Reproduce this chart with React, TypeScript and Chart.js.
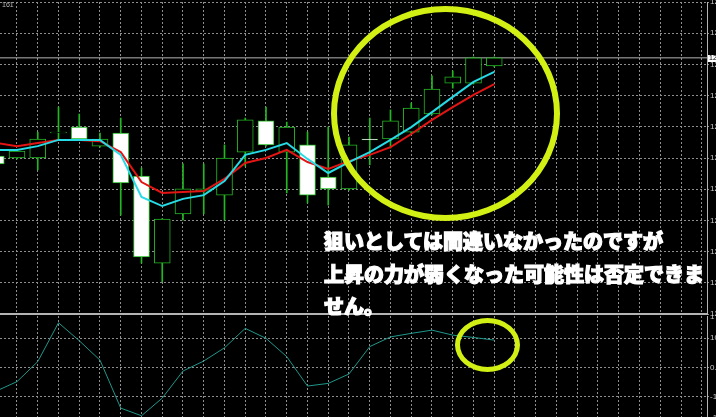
import React, { useEffect, useRef } from 'react';
import { Chart, registerables } from 'chart.js';

Chart.register(...registerables);

// ---- data (USD/JPY-like) ----
const opens = [122.006, 122.0, 122.0, 122.08, 122.099, 122.038, 122.08, 121.942, 121.663, 121.821, 121.894, 121.881, 122.019, 122.119, 122.019, 122.042, 121.939, 121.901, 122.061, 122.061, 122.083, 122.141, 122.24, 122.24, 122.295];
const highs = [122.019, 122.026, 122.083, 122.163, 122.141, 122.08, 122.128, 121.968, 121.806, 121.981, 121.981, 122.042, 122.128, 122.163, 122.115, 122.083, 122.099, 122.067, 122.128, 122.154, 122.176, 122.263, 122.279, 122.324, 122.324];
const lows = [121.974, 121.997, 121.962, 122.058, 122.058, 122.035, 121.817, 121.663, 121.603, 121.801, 121.821, 121.801, 121.974, 122.038, 121.888, 121.856, 121.849, 121.897, 121.978, 122.032, 122.08, 122.138, 122.224, 122.237, 122.292];
const closes = [121.981, 122.022, 122.061, 122.083, 122.061, 122.061, 121.92, 121.683, 121.804, 121.901, 121.901, 122.0, 122.122, 122.042, 122.099, 121.881, 121.901, 122.042, 122.058, 122.119, 122.16, 122.221, 122.26, 122.321, 122.321];
const maFast = [122.026, 122.026, 122.038, 122.058, 122.058, 122.058, 122.01, 121.875, 121.846, 121.869, 121.881, 121.926, 122.01, 122.026, 122.048, 121.997, 121.952, 121.987, 122.019, 122.058, 122.099, 122.147, 122.196, 122.244, 122.276];
const maSlow = [122.048, 122.038, 122.048, 122.058, 122.058, 122.054, 122.019, 121.923, 121.888, 121.891, 121.894, 121.933, 121.984, 122.0, 122.026, 121.987, 121.965, 121.99, 122.01, 122.035, 122.077, 122.122, 122.163, 122.202, 122.237];
const oscillator = [-8.0, -4.8, 2.0, 15.2, 9.1, 2.5, -13.8, -16.4, -10.4, -1.2, 2.2, 6.7, 13.3, 9.9, 3.7, -6.3, -5.4, -2.2, 7.1, 10.4, 11.6, 12.7, 11.0, 10.2, 9.3];
const mainTicks = [121.5, 121.6, 121.7, 121.8, 121.9, 122.0, 122.1, 122.2, 122.3, 122.4, 122.5];
const subTicks = [17.2603, 10, 0, -10, -17.2603];
const noteLines = ['狙いとしては間違いなかったのですが', '上昇の力が弱くなった可能性は否定できま', 'せん。'];

// ---- layout / style ----
const X_MIN = 0.181;
const X_MAX = 34.253;
const GREEN = '#22b822';
const GRID = '#8e8e8e';
const SOLID = '#b4b4b4';
const CYAN = '#27dbe6';
const RED = '#e31414';
const TEAL = '#1f978a';
const MARK = '#d2f014';
const CANVAS_W = 760;
const AXIS_W = CANVAS_W - 707;

const idx = opens.map((_, i) => i);
const gridIdx = Array.from({ length: 34 }, (_, k) => k + 1);
const lastClose = closes[closes.length - 1];

const axisFont = { size: 8, family: 'Liberation Sans' };

function xScale() {
  return {
    type: 'linear' as const,
    min: X_MIN,
    max: X_MAX,
    offset: false,
    position: 'bottom' as const,
    afterBuildTicks: (s: any) => {
      s.ticks = gridIdx.map((v) => ({ value: v }));
    },
    ticks: { display: false },
    grid: { color: GRID, drawTicks: false, lineWidth: 1, offset: false },
    border: { display: true, color: SOLID, width: 2, dash: [2, 2] },
    afterFit: (s: any) => {
      s.height = 0;
      s.paddingLeft = 0;
      s.paddingRight = 0;
    },
  };
}

export default function App() {
  const mainRef = useRef<HTMLCanvasElement>(null);
  const subRef = useRef<HTMLCanvasElement>(null);

  useEffect(() => {
    const priceTag = {
      id: 'priceTag',
      afterDraw(chart: any) {
        const { ctx, chartArea } = chart;
        const y = chart.scales.y.getPixelForValue(lastClose);
        ctx.save();
        ctx.fillStyle = '#ffffff';
        ctx.fillRect(chartArea.right + 1, Math.round(y) - 3, 50, 7);
        ctx.fillStyle = '#000000';
        ctx.font = '7px Liberation Sans';
        ctx.textBaseline = 'middle';
        ctx.fillText(lastClose.toFixed(3), chartArea.right + 2, y + 0.5);
        ctx.restore();
      },
    };

    const main = new Chart(mainRef.current as HTMLCanvasElement, {
      type: 'bar',
      data: {
        datasets: [
          {
            type: 'line',
            data: [
              { x: X_MIN, y: lastClose },
              { x: X_MAX, y: lastClose },
            ],
            borderColor: SOLID,
            borderWidth: 1,
            pointRadius: 0,
            order: 5,
          } as any,
          {
            type: 'bar',
            data: idx.map((i) => ({ x: i, y: [lows[i], highs[i]] })),
            backgroundColor: GREEN,
            borderWidth: 0,
            barThickness: 1,
            grouped: false,
            order: 4,
          } as any,
          {
            type: 'bar',
            data: idx.map((i) => ({ x: i, y: [opens[i], closes[i]] })),
            backgroundColor: idx.map((i) => (closes[i] >= opens[i] ? '#000000' : '#ffffff')),
            borderColor: GREEN,
            borderWidth: 1,
            borderSkipped: false,
            barThickness: 16,
            grouped: false,
            order: 3,
          } as any,
          {
            type: 'line',
            data: idx.map((i) => ({ x: i, y: maSlow[i] })),
            borderColor: RED,
            borderWidth: 2,
            pointRadius: 0,
            tension: 0,
            order: 2,
          } as any,
          {
            type: 'line',
            data: idx.map((i) => ({ x: i, y: maFast[i] })),
            borderColor: CYAN,
            borderWidth: 2,
            pointRadius: 0,
            tension: 0,
            order: 1,
          } as any,
        ],
      },
      options: {
        responsive: false,
        animation: false,
        devicePixelRatio: 1,
        layout: { padding: { top: 2, bottom: 2, left: 0, right: 0 } },
        plugins: { legend: { display: false }, tooltip: { enabled: false } },
        scales: {
          x: xScale() as any,
          y: {
            type: 'linear',
            position: 'right',
            min: 121.5,
            max: 122.5,
            afterBuildTicks: (s: any) => {
              s.ticks = mainTicks.map((v) => ({ value: v }));
            },
            ticks: {
              color: '#c8c8c8',
              font: axisFont,
              padding: 1,
              callback: (v: any) => Number(v).toFixed(3),
            },
            grid: { color: GRID, drawTicks: true, tickLength: 2 },
            border: { display: true, color: SOLID, width: 1, dash: [2, 2] },
            afterFit: (s: any) => {
              s.width = AXIS_W;
              s.paddingTop = 0;
              s.paddingBottom = 0;
            },
          } as any,
        },
      },
      plugins: [priceTag],
    });

    const sub = new Chart(subRef.current as HTMLCanvasElement, {
      type: 'line',
      data: {
        datasets: [
          {
            data: idx.map((i) => ({ x: i, y: oscillator[i] })),
            borderColor: TEAL,
            borderWidth: 1,
            pointRadius: 0,
            tension: 0,
          },
        ],
      },
      options: {
        responsive: false,
        animation: false,
        devicePixelRatio: 1,
        layout: { padding: { top: 1, bottom: 0, left: 0, right: 0 } },
        plugins: { legend: { display: false }, tooltip: { enabled: false } },
        scales: {
          x: xScale() as any,
          y: {
            type: 'linear',
            position: 'right',
            min: -17.5,
            max: 17.5,
            afterBuildTicks: (s: any) => {
              s.ticks = subTicks.map((v) => ({ value: v }));
            },
            ticks: {
              color: '#c8c8c8',
              font: axisFont,
              padding: 1,
              callback: (v: any) => Number(v).toFixed(4),
            },
            grid: {
              color: (c: any) => (c.tick && Math.abs(c.tick.value) > 15 ? 'rgba(0,0,0,0)' : GRID),
              drawTicks: true,
              tickLength: 2,
            },
            border: { display: true, color: SOLID, width: 1, dash: [2, 2] },
            afterFit: (s: any) => {
              s.width = AXIS_W;
              s.paddingTop = 0;
              s.paddingBottom = 0;
            },
          } as any,
        },
      },
    });

    return () => {
      main.destroy();
      sub.destroy();
    };
  }, []);

  return (
    <div
      style={{
        position: 'fixed',
        left: 0,
        top: 0,
        width: 716,
        height: 417,
        overflow: 'hidden',
        background: '#000000',
      }}
    >
      <canvas ref={mainRef} width={CANVAS_W} height={316} style={{ position: 'absolute', left: 0, top: 0 }} />
      <canvas ref={subRef} width={CANVAS_W} height={104} style={{ position: 'absolute', left: 0, top: 315 }} />
      <div
        style={{
          position: 'absolute',
          left: 2,
          top: 1,
          color: '#bbbbbb',
          font: '7px "Liberation Sans", sans-serif',
        }}
      >
        161
      </div>
      <div
        style={{
          position: 'absolute',
          left: 331,
          top: 6,
          width: 229,
          height: 215,
          boxSizing: 'border-box',
          border: `6px solid ${MARK}`,
          borderRadius: '50%',
        }}
      />
      <div
        style={{
          position: 'absolute',
          left: 455,
          top: 318,
          width: 65,
          height: 54,
          boxSizing: 'border-box',
          border: `5px solid ${MARK}`,
          borderRadius: '50%',
        }}
      />
      <div
        style={{
          position: 'absolute',
          left: 324,
          top: 225,
          color: '#ffffff',
          fontFamily: '"Noto Sans CJK JP", sans-serif',
          fontWeight: 900,
          fontSize: 20,
          lineHeight: '32.5px',
          whiteSpace: 'pre',
          WebkitTextStroke: '1.2px #ffffff',
        }}
      >
        {noteLines.map((t, k) => (
          <div key={k}>{t}</div>
        ))}
      </div>
    </div>
  );
}
